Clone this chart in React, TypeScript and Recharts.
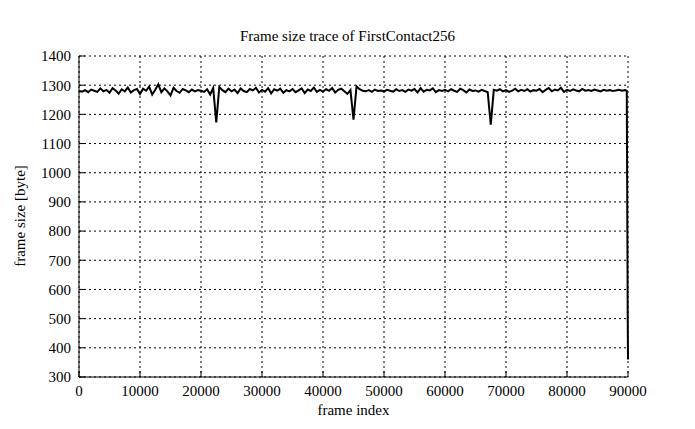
import { LineChart, Line, XAxis, YAxis, CartesianGrid } from 'recharts';

// frame size samples, one every 500 frames from 0 to 89500
const sizes = [
  1280, 1278, 1283, 1276, 1285, 1281, 1277, 1289, 1279, 1284,
  1274, 1290, 1282, 1271, 1286, 1279, 1292, 1275, 1283, 1287,
  1270, 1288, 1281, 1295, 1268, 1284, 1303, 1276, 1289, 1279,
  1265, 1291, 1280, 1274, 1287, 1282, 1276, 1285, 1279, 1283,
  1281, 1277, 1286, 1268, 1290, 1172, 1294, 1283, 1276, 1288,
  1279, 1285, 1273, 1289, 1280, 1276, 1287, 1282, 1291, 1275,
  1284, 1278, 1290, 1272, 1286, 1281, 1288, 1274, 1283, 1279,
  1287, 1276, 1282, 1289, 1273, 1285, 1280, 1292, 1277, 1284,
  1278, 1286, 1281, 1290, 1275, 1284, 1288, 1279, 1270, 1283,
  1182, 1296, 1286, 1281, 1279, 1283, 1277, 1285, 1280, 1282,
  1279, 1284, 1281, 1278, 1286, 1280, 1283, 1277, 1285, 1281,
  1287, 1275, 1290, 1278, 1284, 1282, 1289, 1276, 1283, 1280,
  1284, 1279, 1286, 1281, 1277, 1288, 1283, 1275, 1285, 1280,
  1282, 1278, 1284, 1280, 1276, 1165, 1284, 1281, 1286, 1279,
  1283, 1277, 1281, 1288, 1279, 1284, 1280, 1286, 1278, 1283,
  1281, 1287, 1276, 1284, 1290, 1279, 1285, 1282, 1291, 1277,
  1284, 1280, 1286, 1282, 1279, 1287, 1281, 1283, 1280, 1285,
  1282, 1279, 1284, 1281, 1283, 1280, 1282, 1284, 1281, 1283,
];
const STEP = 500;

// last few frames at the very end of the trace
const tailFrames = [89800, 89900, 89950, 90000];
const tailSizes = [1281, 780, 520, 360];

const xTicks = [0, 10000, 20000, 30000, 40000, 50000, 60000, 70000, 80000, 90000];
const yTicks = [300, 400, 500, 600, 700, 800, 900, 1000, 1100, 1200, 1300, 1400];

const data = [
  ...sizes.map((s, i) => ({ frame: i * STEP, size: s })),
  ...tailFrames.map((f, i) => ({ frame: f, size: tailSizes[i] })),
];

const font = '"Liberation Serif", "DejaVu Serif", serif';
const tickStyle = { fill: '#000', fontSize: 15, fontFamily: font };

export default function App() {
  return (
    <div style={{ position: 'absolute', left: 0, top: 0, width: 695, height: 429, background: '#fff', fontFamily: font }}>
      <div style={{ position: 'absolute', left: 0, width: 695, top: 28, textAlign: 'center', fontSize: 15, color: '#000' }}>
        Frame size trace of FirstContact256
      </div>
      <div style={{ position: 'absolute', left: 0, width: 695, top: 402, paddingLeft: 12, boxSizing: 'border-box', textAlign: 'center', fontSize: 15, color: '#000' }}>
        frame index
      </div>
      <div
        style={{
          position: 'absolute', left: 20, top: 216, fontSize: 15, color: '#000', whiteSpace: 'nowrap',
          transform: 'translate(-50%, -50%) rotate(-90deg)',
        }}
      >
        frame size [byte]
      </div>
      <LineChart
        width={695}
        height={429}
        data={data}
        margin={{ top: 56, right: 67, left: 29, bottom: 22 }}
        style={{ fontFamily: font }}
      >
        <CartesianGrid xAxisId="b" yAxisId="l" stroke="#000" strokeDasharray="2 3" />
        <XAxis
          xAxisId="b"
          dataKey="frame"
          type="number"
          domain={[0, 90000]}
          ticks={xTicks}
          interval={0}
          height={30}
          tickSize={-6}
          tickMargin={14}
          tick={tickStyle}
          axisLine={{ stroke: '#000', strokeWidth: 1 }}
          tickLine={{ stroke: '#000' }}
        />
        <XAxis
          xAxisId="t"
          orientation="top"
          dataKey="frame"
          type="number"
          domain={[0, 90000]}
          ticks={xTicks}
          interval={0}
          height={0}
          tickSize={-6}
          tickFormatter={() => ''}
          axisLine={{ stroke: '#000', strokeWidth: 1 }}
          tickLine={{ stroke: '#000' }}
        />
        <YAxis
          yAxisId="l"
          type="number"
          domain={[300, 1400]}
          ticks={yTicks}
          interval={0}
          width={50}
          tickSize={-6}
          tickMargin={14}
          tick={tickStyle}
          axisLine={{ stroke: '#000', strokeWidth: 1 }}
          tickLine={{ stroke: '#000' }}
        />
        <YAxis
          yAxisId="r"
          orientation="right"
          type="number"
          domain={[300, 1400]}
          ticks={yTicks}
          interval={0}
          width={0}
          tickSize={-6}
          tickFormatter={() => ''}
          axisLine={{ stroke: '#000', strokeWidth: 1 }}
          tickLine={{ stroke: '#000' }}
        />
        <Line
          xAxisId="b"
          yAxisId="l"
          type="linear"
          dataKey="size"
          stroke="#000"
          strokeWidth={2}
          dot={false}
          isAnimationActive={false}
        />
      </LineChart>
    </div>
  );
}
